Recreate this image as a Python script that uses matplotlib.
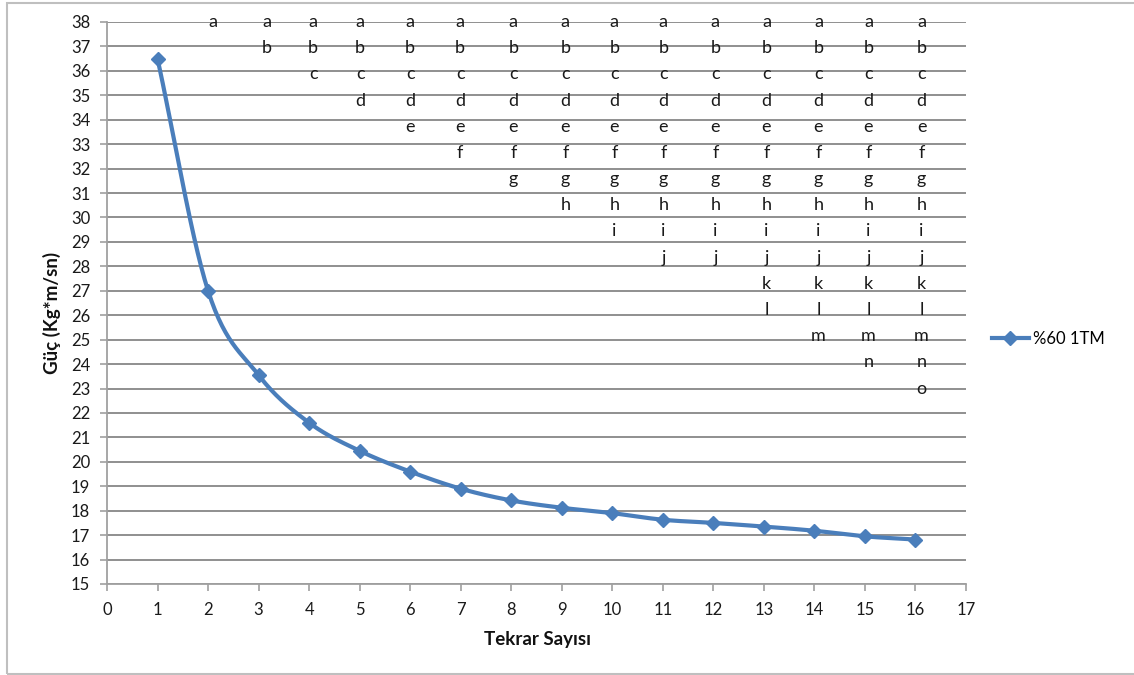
import numpy as np
import matplotlib
matplotlib.use("Agg")
import matplotlib.pyplot as plt
from matplotlib.patches import Rectangle
from matplotlib.lines import Line2D

plt.rcParams['font.family'] = ['Lato', 'DejaVu Sans']

# Data
tekrar = [1, 2, 3, 4, 5, 6, 7, 8, 9, 10, 11, 12, 13, 14, 15, 16]
guc = [36.5, 27.0, 23.55, 21.6, 20.45, 19.6, 18.9, 18.42, 18.12, 17.9,
       17.63, 17.5, 17.35, 17.18, 16.95, 16.82]
series_name = "%60 1TM"

# Letter annotations: column x position and number of letters (a, b, c, ...)
letter_cols = [2.10, 3.17, 4.08, 5.01, 6.0, 6.99, 8.04, 9.07, 10.04, 11.01,
               12.04, 13.05, 14.08, 15.07, 16.12]
letter_counts = [1, 2, 3, 4, 5, 6, 7, 8, 9, 10, 10, 12, 13, 14, 15]
letters = list("abcdefghijklmno")
letter_top = 38.0
letter_bottom = 23.0

xticks = list(range(0, 18))
yticks = list(range(15, 39))

W, H = 1134, 675
fig = plt.figure(figsize=(W/100, H/100), dpi=100)
ax = fig.add_axes([107/W, 1-584/H, (966-107)/W, (584-22)/H])

blue = '#4A7EBB'
grid_c = '#878787'

# smooth line (Excel-like Bezier smoothing through data points)
x = np.array(tekrar, float)
y = np.array(guc, float)
px = np.concatenate([[2*x[0]-x[1]], x, [2*x[-1]-x[-2]]])
py = np.concatenate([[2*y[0]-y[1]], y, [2*y[-1]-y[-2]]])
sx, sy = [], []
t = np.linspace(0, 1, 30)
for i in range(1, len(px)-2):
    p0x, p1x, p2x, p3x = px[i-1], px[i], px[i+1], px[i+2]
    p0y, p1y, p2y, p3y = py[i-1], py[i], py[i+1], py[i+2]
    c1x = p1x + (p2x - p0x) / 6
    c1y = p1y + (p2y - p0y) / 6
    c2x = p2x - (p3x - p1x) / 6
    c2y = p2y - (p3y - p1y) / 6
    bx = (1-t)**3*p1x + 3*(1-t)**2*t*c1x + 3*(1-t)*t**2*c2x + t**3*p2x
    by = (1-t)**3*p1y + 3*(1-t)**2*t*c1y + 3*(1-t)*t**2*c2y + t**3*p2y
    sx.extend(bx); sy.extend(by)

ax.plot(sx, sy, color=blue, lw=3, solid_capstyle='round', zorder=3)
ax.plot(x, y, linestyle='none', marker='D', ms=7.5, color=blue, zorder=4)

ax.set_xlim(0, 17)
ax.set_ylim(15, 38)
ax.set_xticks(xticks)
ax.set_yticks(yticks)
ax.yaxis.grid(True, color=grid_c, lw=1.3)
ax.set_axisbelow(True)
for s in ['top', 'right']:
    ax.spines[s].set_visible(False)
for s in ['left', 'bottom']:
    ax.spines[s].set_color('#A0A0A0')
    ax.spines[s].set_linewidth(1.3)
ax.tick_params(axis='both', direction='out', length=5, width=1.2, color='#A0A0A0',
               labelsize=12, labelcolor='#1a1a1a')
ax.tick_params(axis='x', pad=8)
ax.tick_params(axis='y', pad=7)

fig.text(537/W, 1-640/H, 'Tekrar Sayısı', fontsize=13.5, fontweight='bold',
         ha='center', va='center', color='#111111')
fig.text(52/W, 1-313/H, 'Güç (Kg*m/sn)', fontsize=13.5, fontweight='bold',
         rotation=90, ha='center', va='center', color='#111111')

step = (letter_top - letter_bottom) / (len(letters) - 1)
for cx, n in zip(letter_cols, letter_counts):
    for k in range(n):
        ax.text(cx, letter_top - k*step, letters[k], ha='center', va='center',
                fontsize=13, color='#1a1a1a', clip_on=False, zorder=5)

# legend
handle = Line2D([0], [0], color=blue, lw=3, marker='D', ms=7.5)
leg = fig.legend([handle], [series_name], loc='center left',
                 bbox_to_anchor=(992/W, 1-339/H), frameon=False,
                 fontsize=12, handlelength=2.2, handletextpad=0.25,
                 borderpad=0, borderaxespad=0)

# outer frame
fig.patches.append(Rectangle((7/W, 1/H), 1.1, 1-4/H, transform=fig.transFigure,
                             fill=False, edgecolor='#BFBFBF', lw=1.5))

fig.savefig('out.png', dpi=100)
